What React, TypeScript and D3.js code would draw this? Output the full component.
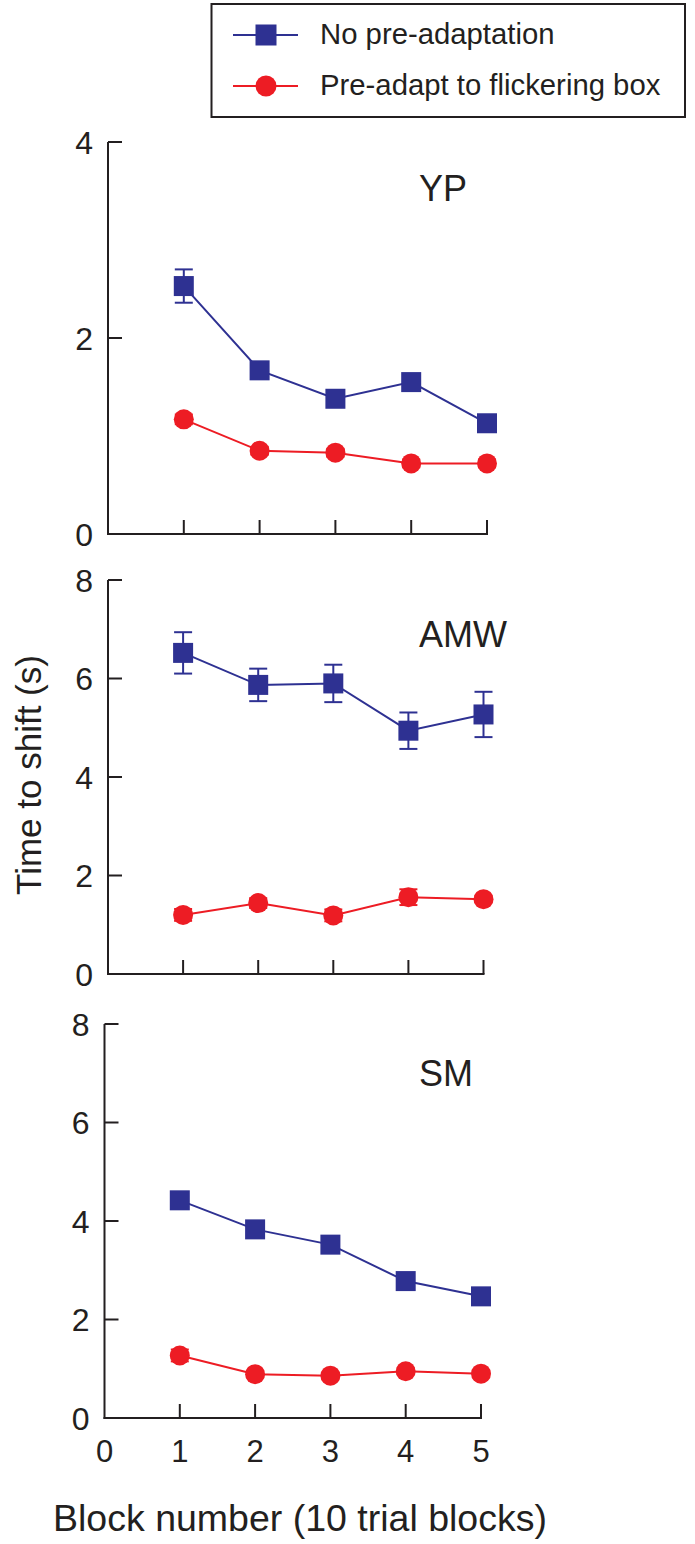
import React from 'react';
import * as d3 from 'd3';

// ---- data ----
const blocks = [1, 2, 3, 4, 5];
const xTickValues = [0, 1, 2, 3, 4, 5];
const subjects = ['YP', 'AMW', 'SM'];
const seriesNames = ['No pre-adaptation', 'Pre-adapt to flickering box'];

const ypNoPre = [2.53, 1.67, 1.38, 1.55, 1.13];
const ypNoPreErr = [0.17, 0.05, 0.04, 0.05, 0.04];
const ypPre = [1.17, 0.85, 0.83, 0.72, 0.72];
const ypPreErr = [0.05, 0.04, 0.04, 0.04, 0.04];

const amwNoPre = [6.52, 5.87, 5.9, 4.94, 5.27];
const amwNoPreErr = [0.42, 0.33, 0.38, 0.37, 0.46];
const amwPre = [1.2, 1.44, 1.19, 1.56, 1.52];
const amwPreErr = [0.12, 0.1, 0.12, 0.16, 0.06];

const smNoPre = [4.42, 3.83, 3.52, 2.78, 2.47];
const smNoPreErr = [0.12, 0.08, 0.08, 0.08, 0.06];
const smPre = [1.27, 0.89, 0.86, 0.95, 0.9];
const smPreErr = [0.12, 0.06, 0.05, 0.06, 0.05];

const yTicksTop = [0, 2, 4];
const yTicksLower = [0, 2, 4, 6, 8];
const yMaxes = [4, 8, 8];

// ---- style / layout ----
const W = 695;
const H = 1544;
const BLUE = '#2e3192';
const RED = '#ed1c24';
const INK = '#231f20';
const FONT = '"Liberation Sans", Arial, Helvetica, sans-serif';
const SQ = 20;
const CR = 10;

const layouts = [
  { x0: 108, x1: 487, yTop: 142, yBot: 534, labelY: 201 },
  { x0: 108, x1: 483.5, yTop: 580, yBot: 974, labelY: 647 },
  { x0: 104.5, x1: 481, yTop: 1024, yBot: 1418, labelY: 1086 },
];

const panelData = [
  { a: ypNoPre, ae: ypNoPreErr, b: ypPre, be: ypPreErr, ticks: yTicksTop },
  { a: amwNoPre, ae: amwNoPreErr, b: amwPre, be: amwPreErr, ticks: yTicksLower },
  { a: smNoPre, ae: smNoPreErr, b: smPre, be: smPreErr, ticks: yTicksLower },
];

function Panel({ idx }: { idx: number }) {
  const L = layouts[idx];
  const D = panelData[idx];
  const x = d3.scaleLinear().domain([0, 5]).range([L.x0, L.x1]);
  const y = d3.scaleLinear().domain([0, yMaxes[idx]]).range([L.yBot, L.yTop]);
  const line = d3
    .line<number>()
    .x((_, i) => x(blocks[i]))
    .y((v) => y(v));
  const errBars = (vals: number[], errs: number[], color: string) =>
    vals.map((v, i) => {
      const cx = x(blocks[i]);
      const t = y(v + errs[i]);
      const b = y(v - errs[i]);
      const cw = 9;
      return (
        <g key={'e' + i} stroke={color} strokeWidth={2}>
          <line x1={cx} x2={cx} y1={t} y2={b} />
          <line x1={cx - cw} x2={cx + cw} y1={t} y2={t} />
          <line x1={cx - cw} x2={cx + cw} y1={b} y2={b} />
        </g>
      );
    });
  const isBottom = idx === 2;
  return (
    <g>
      {/* axes */}
      <line x1={L.x0} x2={L.x0} y1={L.yTop} y2={L.yBot + 1} stroke={INK} strokeWidth={2} />
      <line x1={L.x0 - 1} x2={L.x1 + 1} y1={L.yBot} y2={L.yBot} stroke={INK} strokeWidth={2} />
      {D.ticks.map((t) => (
        <g key={'yt' + t}>
          <line x1={L.x0} x2={L.x0 + 14} y1={y(t)} y2={y(t)} stroke={INK} strokeWidth={2} />
          <text
            x={L.x0 - 15}
            y={y(t)}
            dy="0.36em"
            textAnchor="end"
            fontSize={32}
            fontFamily={FONT}
            fill={INK}
          >
            {t}
          </text>
        </g>
      ))}
      {blocks.map((b) => (
        <line key={'xt' + b} x1={x(b)} x2={x(b)} y1={L.yBot} y2={L.yBot - 14} stroke={INK} strokeWidth={2} />
      ))}
      {isBottom &&
        xTickValues.map((t) => (
          <text
            key={'xl' + t}
            x={x(t)}
            y={1462}
            textAnchor="middle"
            fontSize={31}
            fontFamily={FONT}
            fill={INK}
          >
            {t}
          </text>
        ))}
      <text x={419} y={L.labelY} fontSize={36} fontFamily={FONT} fill={INK}>
        {subjects[idx]}
      </text>
      {/* series lines */}
      <path d={line(D.a) || ''} fill="none" stroke={BLUE} strokeWidth={2} />
      <path d={line(D.b) || ''} fill="none" stroke={RED} strokeWidth={2} />
      {errBars(D.a, D.ae, BLUE)}
      {errBars(D.b, D.be, RED)}
      {D.a.map((v, i) => (
        <rect key={'s' + i} x={x(blocks[i]) - SQ / 2} y={y(v) - SQ / 2} width={SQ} height={SQ} fill={BLUE} />
      ))}
      {D.b.map((v, i) => (
        <circle key={'c' + i} cx={x(blocks[i])} cy={y(v)} r={CR} fill={RED} />
      ))}
    </g>
  );
}

function Legend() {
  const rows = [
    { name: seriesNames[0], color: BLUE, cy: 35, ty: 44, shape: 'square' },
    { name: seriesNames[1], color: RED, cy: 86, ty: 95, shape: 'circle' },
  ];
  return (
    <g>
      <rect x={211.5} y={4} width={473.5} height={113} fill="#fff" stroke={INK} strokeWidth={2} />
      {rows.map((r) => (
        <g key={r.name}>
          <line x1={233} x2={298} y1={r.cy} y2={r.cy} stroke={r.color} strokeWidth={2} />
          {r.shape === 'square' ? (
            <rect x={266 - 10.5} y={r.cy - 10.5} width={21} height={21} fill={r.color} />
          ) : (
            <circle cx={266} cy={r.cy} r={10.5} fill={r.color} />
          )}
          <text x={320} y={r.ty} fontSize={29.3} fontFamily={FONT} fill={INK}>
            {r.name}
          </text>
        </g>
      ))}
    </g>
  );
}

export default function App() {
  return (
    <svg
      width={W}
      height={H}
      viewBox={`0 0 ${W} ${H}`}
      style={{ position: 'absolute', left: 0, top: 0, background: '#fff' }}
    >
      <rect x={0} y={0} width={W} height={H} fill="#fff" />
      <Legend />
      {[0, 1, 2].map((i) => (
        <Panel key={i} idx={i} />
      ))}
      <text
        transform="translate(41,775) rotate(-90)"
        textAnchor="middle"
        fontSize={35}
        fontFamily={FONT}
        fill={INK}
      >
        Time to shift (s)
      </text>
      <text x={300} y={1531} textAnchor="middle" fontSize={37.5} fontFamily={FONT} fill={INK}>
        Block number (10 trial blocks)
      </text>
    </svg>
  );
}
